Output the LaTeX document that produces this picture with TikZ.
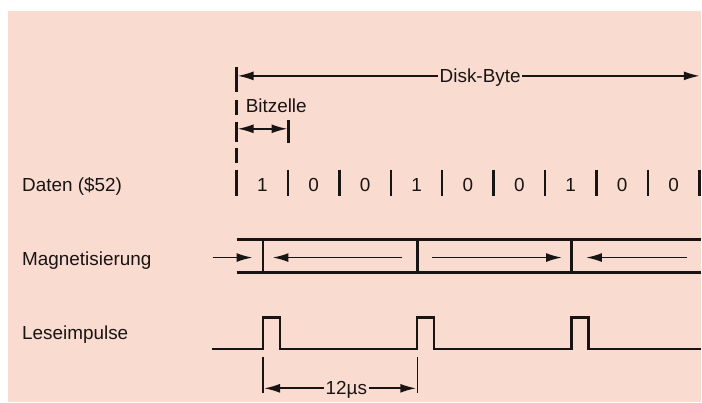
\documentclass[tikz,border=0pt]{standalone}
\usepackage{fontspec}
\setmainfont{Liberation Sans}
\usetikzlibrary{arrows.meta}
\definecolor{paper}{RGB}{250,219,208}
\definecolor{ink}{RGB}{25,20,20}

\begin{document}
\begin{tikzpicture}[x=1bp, y=-1bp,
        lbl/.style={font=\fontsize{19}{21}\selectfont, text=ink, inner sep=0pt},
        online/.style={lbl, text depth=0pt, inner xsep=1.5bp},
        arr/.style={-{Latex[length=16bp,width=9bp]}, line width=1.7bp, draw=ink},
        heavy/.style={line width=2.5bp, draw=ink},
        light/.style={line width=1.3bp, draw=ink}]
        % Background
        \fill[white] (0,0) rectangle (702,403);
        \fill[paper] (8,11) rectangle (702,403);

        % Row labels
        \node[lbl, anchor=base west] (daten) at (22,192) {Daten (\$52)};
        \node[lbl, anchor=base west] (magnet) at (22,266) {Magnetisierung};
        \node[lbl, anchor=base west] (lese) at (22,340) {Leseimpulse};

        % Disk-Byte
        \coordinate (byteL) at (238,76);
        \coordinate (byteR) at (701,76);
        \node[online] (byte) at (481,76) {Disk-Byte};
        \draw[arr] (byte.west) -- (byteL);
        \draw[arr] (byte.east) -- (byteR);

        % Left border of the byte
        \draw[heavy] (237,67) -- (237,92);
        \draw[heavy] (237,100) -- (237,115);
        \draw[heavy] (237,122) -- (237,142);
        \draw[heavy] (237,148) -- (237,163);

        % Bitzelle
        \node[lbl, anchor=base west] (bitz) at (246,113) {Bitzelle};
        \coordinate (cellL) at (238,129);
        \coordinate (cellR) at (288,129);
        \draw[heavy] (289,120) -- (289,143);
        \draw[arr, {Latex[length=16bp,width=9bp]}-{Latex[length=16bp,width=9bp]}] (cellL) -- (cellR);

        % Daten
        \foreach \i in {0,...,9}
            \draw[heavy] (237+51.5*\i,170) -- (237+51.5*\i,196);
        \foreach \b [count=\i from 0] in {1,0,0,1,0,0,1,0,0}
            \node[lbl] (bit\i) at (262.75+51.5*\i,185) {\b};

        % Magnetisierung
        \draw[heavy] (237,240) -- (702,240);
        \draw[heavy] (237,273) -- (702,273);
        \foreach \i in {0,1,2}
            \draw[heavy] (263.5+154.5*\i,240) -- (263.5+154.5*\i,273);
        \coordinate (inA) at (213,258);
        \coordinate (inB) at (253,258);
        \coordinate (m1A) at (403,258);
        \coordinate (m1B) at (273,258);
        \coordinate (m2A) at (433,258);
        \coordinate (m2B) at (563,258);
        \coordinate (m3A) at (688,258);
        \coordinate (m3B) at (587,258);
        \draw[arr] (inA) -- (inB);
        \draw[arr] (m1A) -- (m1B);
        \draw[arr] (m2A) -- (m2B);
        \draw[arr] (m3A) -- (m3B);

        % Leseimpulse
        \draw[heavy, line width=2.2bp] (212,350) -- (263.5,350) -- (263.5,318) -- (280.5,318)
            -- (280.5,350) -- (418,350) -- (418,318) -- (435,318) -- (435,350)
            -- (572.5,350) -- (572.5,318) -- (589.5,318) -- (589.5,350) -- (702,350);

        % 12 us
        \draw[light] (263.5,358) -- (263.5,394);
        \draw[light] (418,358) -- (418,394);
        \coordinate (usL) at (264.5,389);
        \coordinate (usR) at (417,389);
        \node[online] (us) at (347,389) {12µs};
        \draw[arr] (us.west) -- (usL);
        \draw[arr] (us.east) -- (usR);
\end{tikzpicture}
\end{document}
